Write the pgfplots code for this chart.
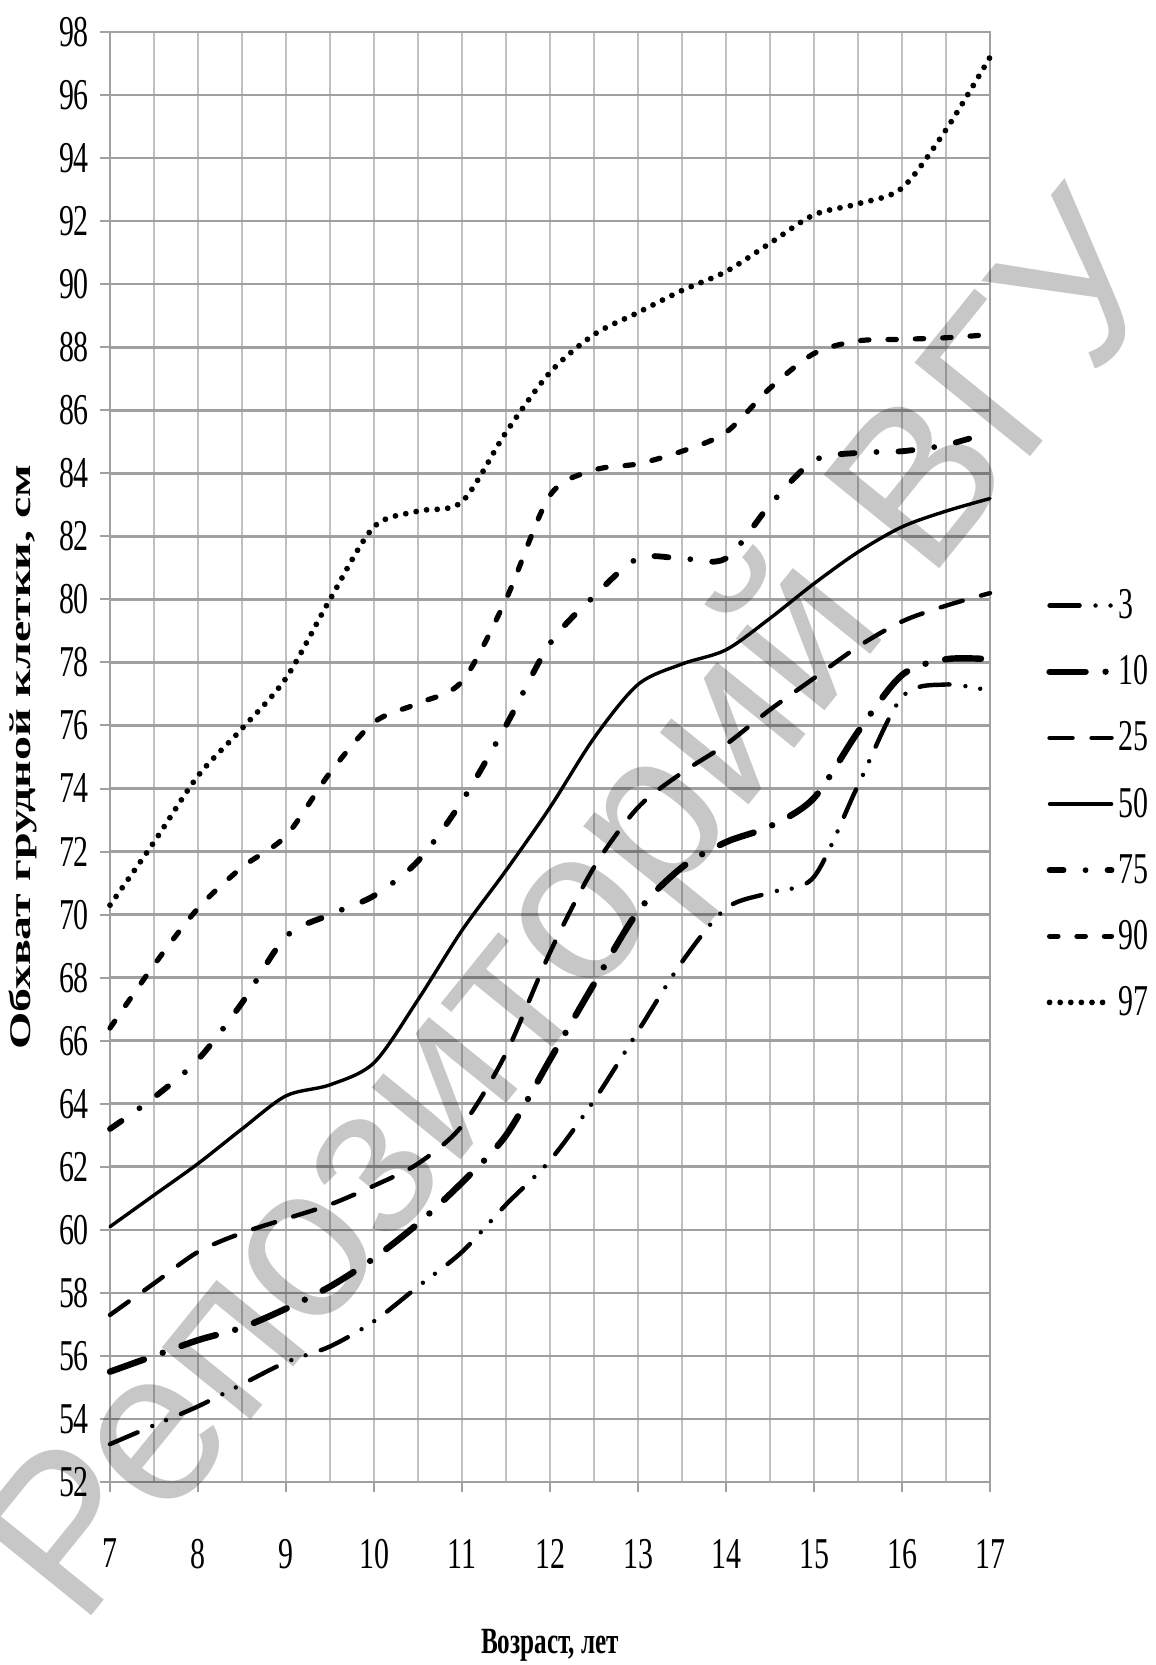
\documentclass[border=0pt]{standalone}
\usepackage{pgfplots}
\pgfplotsset{compat=1.18}
\usepackage{fontspec}
\setmainfont{Liberation Serif}
\newfontfamily\cond[FakeStretch=0.68]{Liberation Serif}
\newfontfamily\tall[FakeStretch=1.6]{Liberation Serif}
\newfontfamily\wmfont{Liberation Sans}
\definecolor{hgrid}{RGB}{160,160,160}
\definecolor{vgrid}{RGB}{192,192,192}
\begin{document}
\begin{tikzpicture}
\begin{axis}[
 scale only axis, width=440pt, height=725pt,
 xmin=7, xmax=17, ymin=52, ymax=98, clip=false,
 xtick={7,...,17}, minor xtick={7.5,8.5,...,16.5},
 ytick={52,54,...,98},
 xmajorgrids, xminorgrids, ymajorgrids,
 x grid style={vgrid, line width=1pt},
 y grid style={hgrid, line width=1.3pt},
 axis line style={hgrid, line width=1pt},
 tick align=outside, major tick length=5pt, minor tick length=0pt,
 tick style={hgrid, line width=1pt},
 tick pos=left,
 /pgf/number format/assume math mode=true,
 tick label style={font=\cond\fontsize{22}{22}\selectfont},
 xticklabel style={yshift=-20pt},
 yticklabel style={xshift=-2pt},
 xlabel={Возраст, лет},
 xlabel style={font=\cond\fontsize{18.5}{18.5}\selectfont\bfseries, at={(axis description cs:0.5,-0.1124)}, anchor=center},
 ylabel={Обхват грудной клетки, см},
 ylabel style={font=\tall\fontsize{15}{15}\selectfont\bfseries, at={(axis description cs:-0.0989,0.5)}, anchor=center},
 legend style={at={(axis description cs:1.0636,0.4676)}, anchor=west, draw=none, fill=none, inner sep=0pt, row sep=13pt, font=\cond\fontsize{22}{22}\selectfont},
 legend image code/.code={\draw[#1] (0pt,0pt) -- (31pt,0pt);},
 legend cell align=left,
 every axis plot/.append style={black, smooth, tension=0.5, line cap=round, no marks},
]
\node[font=\wmfont\fontsize{108}{108}\selectfont, text=black, text opacity=0.22, rotate=51, anchor=center] at (axis cs:12.4,70.0) {Репозиторий ВГУ};

\addplot[line width=2.2pt, dash pattern=on 15pt off 8pt on 0pt off 7.5pt on 0pt off 8pt] coordinates {
(7,53.2)(7.5,53.8)(8,54.4)(8.5,55.1)(9,55.8)(9.5,56.3)(10,57.1)(10.5,58.2)(11,59.3)(11.5,60.8)(12,62.2)(12.5,64.1)(13,66.3)(13.5,68.5)(14,70.2)(14.5,70.7)(15,71.2)(15.5,74.1)(16,76.9)(16.5,77.3)(17,77.1)};
\addlegendentry{3}
\addplot[line width=3.2pt, dash pattern=on 18pt off 10pt on 0pt off 10pt] coordinates {
(7,55.5)(7.5,56.0)(8,56.5)(8.5,56.9)(9,57.5)(9.5,58.2)(10,59.1)(10.5,60.2)(11,61.5)(11.5,63.0)(12,65.4)(12.5,67.8)(13,70.1)(13.5,71.5)(14,72.3)(14.5,72.8)(15,73.7)(15.5,75.8)(16,77.6)(16.5,78.1)(17,78.1)};
\addlegendentry{10}
\addplot[line width=2.2pt, dash pattern=on 11.5pt off 9.5pt] coordinates {
(7,57.3)(7.5,58.3)(8,59.3)(8.5,59.9)(9,60.35)(9.5,60.8)(10,61.4)(10.5,62.1)(11,63.3)(11.5,65.6)(12,68.8)(12.5,71.5)(13,73.4)(13.5,74.5)(14,75.4)(14.5,76.5)(15,77.5)(15.5,78.5)(16,79.3)(16.5,79.8)(17,80.2)};
\addlegendentry{25}
\addplot[line width=1.7pt] coordinates {
(7,60.1)(7.5,61.1)(8,62.1)(8.5,63.2)(9,64.25)(9.5,64.6)(10,65.3)(10.5,67.3)(11,69.5)(11.5,71.4)(12,73.4)(12.5,75.6)(13,77.3)(13.5,77.95)(14,78.4)(14.5,79.4)(15,80.5)(15.5,81.5)(16,82.3)(16.5,82.8)(17,83.2)};
\addlegendentry{50}
\addplot[line width=2.9pt, dash pattern=on 7pt off 11pt on 0pt off 11pt] coordinates {
(7,63.2)(7.5,64.2)(8,65.4)(8.5,67.2)(9,69.3)(9.5,70.0)(10,70.6)(10.5,71.7)(11,73.6)(11.5,76.0)(12,78.6)(12.5,80.1)(13,81.3)(13.5,81.3)(14,81.3)(14.5,83.0)(15,84.4)(15.5,84.65)(16,84.7)(16.5,84.9)(17,85.3)};
\addlegendentry{75}
\addplot[line width=2.6pt, dash pattern=on 4.2pt off 9.5pt] coordinates {
(7,66.4)(7.5,68.4)(8,70.2)(8.5,71.5)(9,72.5)(9.5,74.5)(10,76.1)(10.5,76.7)(11,77.4)(11.5,80.0)(12,83.3)(12.5,84.1)(13,84.3)(13.5,84.7)(14,85.3)(14.5,86.7)(15,87.8)(15.5,88.2)(16,88.25)(16.5,88.3)(17,88.4)};
\addlegendentry{90}
\addplot[line width=2.9pt, dash pattern=on 0pt off 5.3pt] coordinates {
(7,70.3)(7.5,72.3)(8,74.4)(8.5,75.9)(9,77.5)(9.5,80.0)(10,82.3)(10.5,82.8)(11,83.1)(11.5,85.3)(12,87.2)(12.5,88.4)(13,89.1)(13.5,89.8)(14,90.4)(14.5,91.3)(15,92.2)(15.5,92.55)(16,93.05)(16.5,94.9)(17,97.2)};
\addlegendentry{97}
\end{axis}
\pgfresetboundingbox
\path[use as bounding box] ([xshift=-55pt,yshift=-91.5pt]current axis.south west) rectangle ([xshift=83pt,yshift=16pt]current axis.north east);
\end{tikzpicture}
\end{document}
